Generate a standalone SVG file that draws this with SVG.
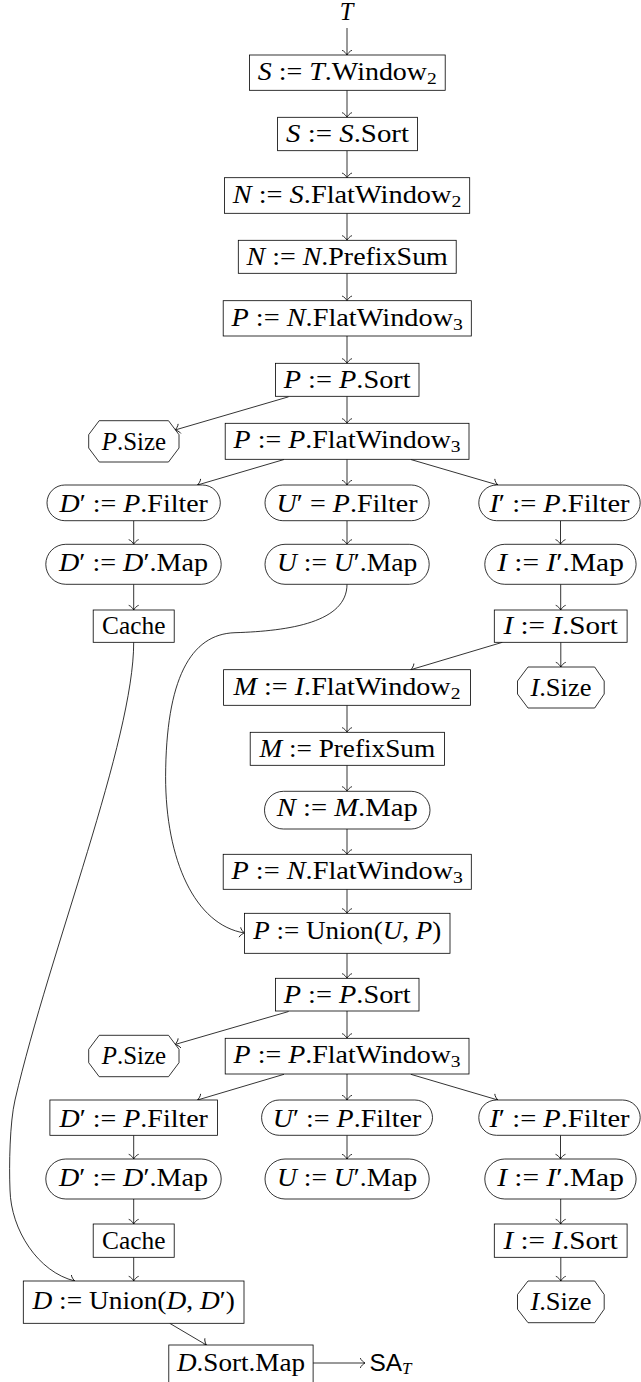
<svg xmlns="http://www.w3.org/2000/svg" width="641" height="1382" viewBox="0 0 641 1382">
<style>
.b{fill:#fff;stroke:#000;stroke-width:0.8}
.e{fill:none;stroke:#000;stroke-width:0.8;marker-end:url(#ah)}
.t{font-family:"Liberation Serif","DejaVu Serif",serif;font-size:24.4px;text-anchor:middle;fill:#000}
.ss{font-family:"Liberation Sans","DejaVu Sans",sans-serif;font-size:24.4px;fill:#000}
.i{font-style:italic;font-family:"Liberation Serif","DejaVu Serif",serif}
.s{font-size:17px}
</style>
<defs>
<marker id="ah" markerUnits="userSpaceOnUse" viewBox="-5 -6 7 12" refX="0.94" refY="0" markerWidth="7" markerHeight="12" orient="auto">
<path d="M-3.75,5 C-3.44,3.12 0,0.31 0.94,0 C0,-0.31 -3.44,-3.12 -3.75,-5" fill="none" stroke="#000" stroke-width="0.8"/>
</marker>
</defs>
<rect width="641" height="1382" fill="#fff"/>
<g id="connectors">
<path class="e" d="M347,28 L347,55"/>
<path class="e" d="M347,90.3 L347,117.3"/>
<path class="e" d="M347,150.7 L347,177.7"/>
<path class="e" d="M347,213.3 L347,240.3"/>
<path class="e" d="M347,273.3 L347,300.7"/>
<path class="e" d="M347,336 L347,363.3"/>
<path class="e" d="M347,396.3 L347,423.3"/>
<path class="e" d="M288.6,396.8 L175,430"/>
<path class="e" d="M284,459.5 L197.5,485"/>
<path class="e" d="M347,459.3 L347,485"/>
<path class="e" d="M410.8,459.5 L497.9,485"/>
<path class="e" d="M133.7,520.7 L133.7,544.3"/>
<path class="e" d="M347,520.7 L347,544.3"/>
<path class="e" d="M560.5,520.7 L560.5,544.3"/>
<path class="e" d="M133.7,584.3 L133.7,610"/>
<path class="e" d="M560.7,584.3 L560.7,610"/>
<path class="e" d="M502.4,642.3 L410.8,669.7"/>
<path class="e" d="M560.8,642.3 L560.8,667"/>
<path class="e" d="M347,705.3 L347,732.3"/>
<path class="e" d="M347,765.3 L347,791.3"/>
<path class="e" d="M347,829 L347,854.3"/>
<path class="e" d="M347,889.3 L347,913.3"/>
<path class="e" d="M347,584.3 C347,622 290,631 235,632.7 C190,634 166,680 165.6,776.7 C165.6,860 195,925 244.5,933"/>
<path class="e" d="M347,953.3 L347,978.3"/>
<path class="e" d="M288.6,1011.5 L175,1044.5"/>
<path class="e" d="M347,1011 L347,1038.3"/>
<path class="e" d="M284,1074.3 L197.5,1100"/>
<path class="e" d="M347,1074 L347,1100"/>
<path class="e" d="M410.8,1074.3 L497.9,1100"/>
<path class="e" d="M133.7,1135.3 L133.7,1159"/>
<path class="e" d="M347,1135.3 L347,1159"/>
<path class="e" d="M560.5,1135.3 L560.5,1159"/>
<path class="e" d="M133.7,1199 L133.7,1224"/>
<path class="e" d="M560.7,1199 L560.7,1224"/>
<path class="e" d="M133.7,1257.3 L133.7,1281"/>
<path class="e" d="M560.8,1257.3 L560.8,1281"/>
<path class="e" d="M133.7,642.3 C133.7,740 50,950 15,1100 C9.75,1122.5 9,1165 10,1190 C11,1230 38,1272 74.8,1281"/>
<path class="e" d="M169.7,1323.3 L206.4,1345"/>
<path class="e" d="M313.1,1363 L365,1363"/>
</g>
<g id="nT"><text class="t" x="346.5" y="20"><tspan class="i">T</tspan></text></g>
<g id="n1"><rect class="b" x="249.4" y="55" width="195.8" height="35.3"/><text class="t" x="347.3" y="80" textLength="179" lengthAdjust="spacingAndGlyphs"><tspan class="i">S</tspan> := <tspan class="i">T</tspan>.Window<tspan class="s" dy="4">2</tspan></text></g>
<g id="n2"><rect class="b" x="277.6" y="117.3" width="139.8" height="33.4"/><text class="t" x="347.5" y="142.3" textLength="123" lengthAdjust="spacingAndGlyphs"><tspan class="i">S</tspan> := <tspan class="i">S</tspan>.Sort</text></g>
<g id="n3"><rect class="b" x="224.4" y="177.7" width="245.3" height="35.6"/><text class="t" x="347" y="202.7" textLength="228.7" lengthAdjust="spacingAndGlyphs"><tspan class="i">N</tspan> := <tspan class="i">S</tspan>.FlatWindow<tspan class="s" dy="4">2</tspan></text></g>
<g id="n4"><rect class="b" x="238.3" y="240.3" width="217.9" height="33"/><text class="t" x="347.2" y="265.3" textLength="201.3" lengthAdjust="spacingAndGlyphs"><tspan class="i">N</tspan> := <tspan class="i">N</tspan>.PrefixSum</text></g>
<g id="n5"><rect class="b" x="223.2" y="300.7" width="248.1" height="35.3"/><text class="t" x="347.2" y="325.7" textLength="231.5" lengthAdjust="spacingAndGlyphs"><tspan class="i">P</tspan> := <tspan class="i">N</tspan>.FlatWindow<tspan class="s" dy="4">3</tspan></text></g>
<g id="n6"><rect class="b" x="275.5" y="363.3" width="143.5" height="33"/><text class="t" x="347.2" y="388.3" textLength="127" lengthAdjust="spacingAndGlyphs"><tspan class="i">P</tspan> := <tspan class="i">P</tspan>.Sort</text></g>
<g id="n7"><polygon class="b" points="99.2,420.7 168.5,420.7 179,434.7 179,448 168.5,462 99.2,462 88.7,448 88.7,434.7"/><text class="t" x="133.85" y="449.7" textLength="64.3" lengthAdjust="spacingAndGlyphs"><tspan class="i">P</tspan>.Size</text></g>
<g id="n8"><rect class="b" x="225.2" y="423.3" width="243.8" height="36"/><text class="t" x="347.1" y="448.3" textLength="227" lengthAdjust="spacingAndGlyphs"><tspan class="i">P</tspan> := <tspan class="i">P</tspan>.FlatWindow<tspan class="s" dy="4">3</tspan></text></g>
<g id="n9"><rect class="b" x="47" y="485" width="173.3" height="35.7" rx="17.85"/><text class="t" x="133.7" y="511.5" textLength="148.4" lengthAdjust="spacingAndGlyphs"><tspan class="i">D</tspan>′ := <tspan class="i">P</tspan>.Filter</text></g>
<g id="n10"><rect class="b" x="265" y="485" width="164.2" height="35.7" rx="17.85"/><text class="t" x="347.1" y="511.5" textLength="141" lengthAdjust="spacingAndGlyphs"><tspan class="i">U</tspan>′ = <tspan class="i">P</tspan>.Filter</text></g>
<g id="n11"><rect class="b" x="478.8" y="485" width="161.4" height="35.7" rx="17.85"/><text class="t" x="559.5" y="511.5" textLength="140.2" lengthAdjust="spacingAndGlyphs"><tspan class="i">I</tspan>′ := <tspan class="i">P</tspan>.Filter</text></g>
<g id="n12"><rect class="b" x="45.8" y="544.3" width="175.4" height="40" rx="20"/><text class="t" x="133.5" y="570.8" textLength="149.2" lengthAdjust="spacingAndGlyphs"><tspan class="i">D</tspan>′ := <tspan class="i">D</tspan>′.Map</text></g>
<g id="n13"><rect class="b" x="265" y="544.3" width="164.2" height="40" rx="20"/><text class="t" x="347.1" y="570.8" textLength="140.2" lengthAdjust="spacingAndGlyphs"><tspan class="i">U</tspan> := <tspan class="i">U</tspan>′.Map</text></g>
<g id="n14"><rect class="b" x="484.8" y="544.3" width="151.3" height="40" rx="20"/><text class="t" x="560.5" y="570.8" textLength="126.7" lengthAdjust="spacingAndGlyphs"><tspan class="i">I</tspan> := <tspan class="i">I</tspan>′.Map</text></g>
<g id="n15"><rect class="b" x="93.2" y="610" width="81" height="32.3"/><text class="t" x="133.7" y="634" textLength="63.4" lengthAdjust="spacingAndGlyphs">Cache</text></g>
<g id="n16"><rect class="b" x="494.3" y="610" width="132.8" height="32.3"/><text class="t" x="560.7" y="634" textLength="114.5" lengthAdjust="spacingAndGlyphs"><tspan class="i">I</tspan> := <tspan class="i">I</tspan>.Sort</text></g>
<g id="n17"><rect class="b" x="223.6" y="669.7" width="246.9" height="35.6"/><text class="t" x="347" y="694.7" textLength="227" lengthAdjust="spacingAndGlyphs"><tspan class="i">M</tspan> := <tspan class="i">I</tspan>.FlatWindow<tspan class="s" dy="4">2</tspan></text></g>
<g id="n18"><polygon class="b" points="528,667 594.7,667 604.2,681 604.2,694 594.7,708 528,708 517.5,694 517.5,681"/><text class="t" x="560.9" y="695.8" textLength="61" lengthAdjust="spacingAndGlyphs"><tspan class="i">I</tspan>.Size</text></g>
<g id="n19"><rect class="b" x="250.2" y="732.3" width="194.2" height="33"/><text class="t" x="347.3" y="757" textLength="175.8" lengthAdjust="spacingAndGlyphs"><tspan class="i">M</tspan> := PrefixSum</text></g>
<g id="n20"><rect class="b" x="264.5" y="791.3" width="165.5" height="37.7" rx="18.85"/><text class="t" x="347.25" y="816" textLength="141" lengthAdjust="spacingAndGlyphs"><tspan class="i">N</tspan> := <tspan class="i">M</tspan>.Map</text></g>
<g id="n21"><rect class="b" x="223.2" y="854.3" width="248.1" height="35"/><text class="t" x="347.2" y="879" textLength="231.5" lengthAdjust="spacingAndGlyphs"><tspan class="i">P</tspan> := <tspan class="i">N</tspan>.FlatWindow<tspan class="s" dy="4">3</tspan></text></g>
<g id="n22"><rect class="b" x="244.5" y="913.3" width="205.5" height="40"/><text class="t" x="347.25" y="939" textLength="188" lengthAdjust="spacingAndGlyphs"><tspan class="i">P</tspan> := Union(<tspan class="i">U</tspan>, <tspan class="i">P</tspan>)</text></g>
<g id="n23"><rect class="b" x="275.5" y="978.3" width="143.5" height="32.7"/><text class="t" x="347.2" y="1003.3" textLength="127" lengthAdjust="spacingAndGlyphs"><tspan class="i">P</tspan> := <tspan class="i">P</tspan>.Sort</text></g>
<g id="n24"><polygon class="b" points="99.2,1035.3 168.5,1035.3 179,1049.3 179,1062.7 168.5,1076.7 99.2,1076.7 88.7,1062.7 88.7,1049.3"/><text class="t" x="133.85" y="1064.3" textLength="64.3" lengthAdjust="spacingAndGlyphs"><tspan class="i">P</tspan>.Size</text></g>
<g id="n25"><rect class="b" x="225.2" y="1038.3" width="243.8" height="35.7"/><text class="t" x="347.1" y="1063.3" textLength="227" lengthAdjust="spacingAndGlyphs"><tspan class="i">P</tspan> := <tspan class="i">P</tspan>.FlatWindow<tspan class="s" dy="4">3</tspan></text></g>
<g id="n26"><rect class="b" x="49.9" y="1100" width="167.6" height="35.3"/><text class="t" x="133.7" y="1126.5" textLength="148.4" lengthAdjust="spacingAndGlyphs"><tspan class="i">D</tspan>′ := <tspan class="i">P</tspan>.Filter</text></g>
<g id="n27"><rect class="b" x="261.6" y="1100" width="170.9" height="35.3" rx="17.65"/><text class="t" x="347" y="1126.5" textLength="148.5" lengthAdjust="spacingAndGlyphs"><tspan class="i">U</tspan>′ := <tspan class="i">P</tspan>.Filter</text></g>
<g id="n28"><rect class="b" x="478.8" y="1100" width="161.4" height="35.3" rx="17.65"/><text class="t" x="559.5" y="1126.5" textLength="140.2" lengthAdjust="spacingAndGlyphs"><tspan class="i">I</tspan>′ := <tspan class="i">P</tspan>.Filter</text></g>
<g id="n29"><rect class="b" x="45.8" y="1159" width="175.4" height="40" rx="20"/><text class="t" x="133.5" y="1185.5" textLength="149.2" lengthAdjust="spacingAndGlyphs"><tspan class="i">D</tspan>′ := <tspan class="i">D</tspan>′.Map</text></g>
<g id="n30"><rect class="b" x="265" y="1159" width="164.2" height="40" rx="20"/><text class="t" x="347.1" y="1185.5" textLength="140.2" lengthAdjust="spacingAndGlyphs"><tspan class="i">U</tspan> := <tspan class="i">U</tspan>′.Map</text></g>
<g id="n31"><rect class="b" x="484.8" y="1159" width="151.3" height="40" rx="20"/><text class="t" x="560.5" y="1185.5" textLength="126.7" lengthAdjust="spacingAndGlyphs"><tspan class="i">I</tspan> := <tspan class="i">I</tspan>′.Map</text></g>
<g id="n32"><rect class="b" x="93.2" y="1224" width="81" height="33.3"/><text class="t" x="133.7" y="1249" textLength="63.4" lengthAdjust="spacingAndGlyphs">Cache</text></g>
<g id="n33"><rect class="b" x="494.3" y="1224" width="132.8" height="33.3"/><text class="t" x="560.7" y="1249" textLength="114.5" lengthAdjust="spacingAndGlyphs"><tspan class="i">I</tspan> := <tspan class="i">I</tspan>.Sort</text></g>
<g id="n34"><rect class="b" x="23.3" y="1281" width="220.7" height="42.3"/><text class="t" x="133.65" y="1308.5" textLength="202.4" lengthAdjust="spacingAndGlyphs"><tspan class="i">D</tspan> := Union(<tspan class="i">D</tspan>, <tspan class="i">D</tspan>′)</text></g>
<g id="n35"><polygon class="b" points="528,1281 594.7,1281 604.2,1294.5 604.2,1309.2 594.7,1322.7 528,1322.7 517.5,1309.2 517.5,1294.5"/><text class="t" x="560.9" y="1310.2" textLength="61" lengthAdjust="spacingAndGlyphs"><tspan class="i">I</tspan>.Size</text></g>
<g id="n36"><rect class="b" x="168.8" y="1345" width="144.3" height="40"/><text class="t" x="241" y="1370.5" textLength="128" lengthAdjust="spacingAndGlyphs"><tspan class="i">D</tspan>.Sort.Map</text></g>
<g id="n37"><text class="ss" x="369.5" y="1370.5">SA<tspan class="i s" dy="3">T</tspan></text></g>
</svg>
